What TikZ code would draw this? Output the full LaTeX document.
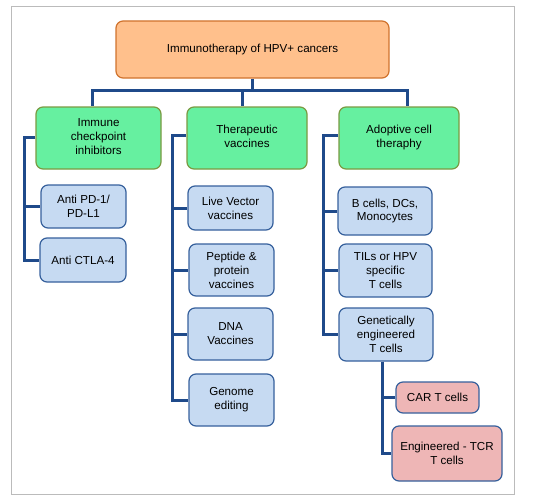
\documentclass[tikz,border=0pt]{standalone}
\usepackage{fontspec}
\setmainfont{Liberation Sans}
\definecolor{topfill}{HTML}{FFC08C}
\definecolor{topline}{HTML}{D0732E}
\definecolor{greenfill}{HTML}{66F0A0}
\definecolor{greenline}{HTML}{7A9A42}
\definecolor{bluefill}{HTML}{C6DAF2}
\definecolor{blueline}{HTML}{36609C}
\definecolor{redfill}{HTML}{EEB6B6}
\definecolor{connc}{HTML}{1F4A8A}
\definecolor{framec}{HTML}{BBBBBB}
\newcommand{\myraisedtext}[1]{\raisebox{3pt}{\begin{tabular}{@{}c@{}}#1\end{tabular}}}
\begin{document}
\begin{tikzpicture}[x=1pt,y=-1pt,
  box/.style={rounded corners=7pt, line width=1.2pt, align=center, inner sep=0pt,
    font=\fontsize{11.6}{13.9}\selectfont, text=black},
  topbox/.style={box, fill=topfill, draw=topline},
  greenbox/.style={box, fill=greenfill, draw=greenline},
  bluebox/.style={box, fill=bluefill, draw=blueline},
  redbox/.style={box, fill=redfill, draw=blueline},
  conn/.style={draw=connc, line width=3pt, line join=miter}]
\useasboundingbox (0,0) rectangle (545,503);
\draw[framec, line width=1pt] (11,7) rectangle (514,494);

\node[topbox, minimum width=273pt, minimum height=57pt] (top) at (252.5,49.5) {Immunotherapy of HPV+ cancers};

\node[greenbox, minimum width=125pt, minimum height=62pt] (g1) at (98.5,138) {\myraisedtext{Immune\\checkpoint\\inhibitors}};
\node[greenbox, minimum width=120pt, minimum height=62pt] (g2) at (247,138) {\myraisedtext{Therapeutic\\vaccines}};
\node[greenbox, minimum width=120pt, minimum height=62pt] (g3) at (399,138) {\myraisedtext{Adoptive cell\\theraphy}};

\node[bluebox, minimum width=85pt, minimum height=43pt] (b1) at (83.5,206.5) {Anti PD-1/\\PD-L1};
\node[bluebox, minimum width=86pt, minimum height=44pt] (b2) at (83,260) {Anti CTLA-4};

\node[bluebox, minimum width=85pt, minimum height=44pt] (v1) at (230.5,208) {Live Vector\\vaccines};
\node[bluebox, minimum width=85pt, minimum height=52pt] (v2) at (231.5,270) {Peptide \&\\protein\\vaccines};
\node[bluebox, minimum width=85pt, minimum height=52pt] (v3) at (230.5,334) {DNA\\Vaccines};
\node[bluebox, minimum width=85pt, minimum height=52pt] (v4) at (231.5,400) {Genome\\editing};

\node[bluebox, minimum width=94pt, minimum height=48pt] (a1) at (385,211) {B cells, DCs,\\Monocytes};
\node[bluebox, minimum width=93pt, minimum height=53pt] (a2) at (385.5,270.5) {TILs or HPV\\specific\\T cells};
\node[bluebox, minimum width=94pt, minimum height=53pt] (a3) at (386,334.5) {Genetically\\engineered\\T cells};

\node[redbox, minimum width=83pt, minimum height=31pt] (r1) at (437.5,397.5) {CAR T cells};
\node[redbox, minimum width=110pt, minimum height=55pt] (r2) at (447,453.5) {Engineered - TCR\\T cells};

% top bus
\coordinate (bus) at (252.5,90);
\draw[conn] (top.south) -- (bus);
\draw[conn] (bus) -| ([xshift=-6.5pt]g1.north);
\draw[conn] (bus) -| ([xshift=-5pt]g2.north);
\draw[conn] (bus) -| ([xshift=8pt]g3.north);

% left group
\coordinate (l1) at (24,137);
\draw[conn] (l1 -| g1.west) -- (l1) |- (b2.west);
\draw[conn] (l1) |- (b1.west);

% middle group
\coordinate (l2) at (172,135);
\draw[conn] (l2 -| g2.west) -- (l2) |- (v4.west);
\draw[conn] (l2) |- (v1.west);
\draw[conn] (l2) |- (v2.west);
\draw[conn] (l2) |- (v3.west);

% right group
\coordinate (l3) at (323,135);
\draw[conn] (l3 -| g3.west) -- (l3) |- (a3.west);
\draw[conn] (l3) |- (a1.west);
\draw[conn] (l3) |- (a2.west);

% sub group
\coordinate (s1) at ([xshift=-4pt]a3.south);
\draw[conn] (s1) |- (r2.west);
\draw[conn] (s1) |- (r1.west);
\end{tikzpicture}
\end{document}
